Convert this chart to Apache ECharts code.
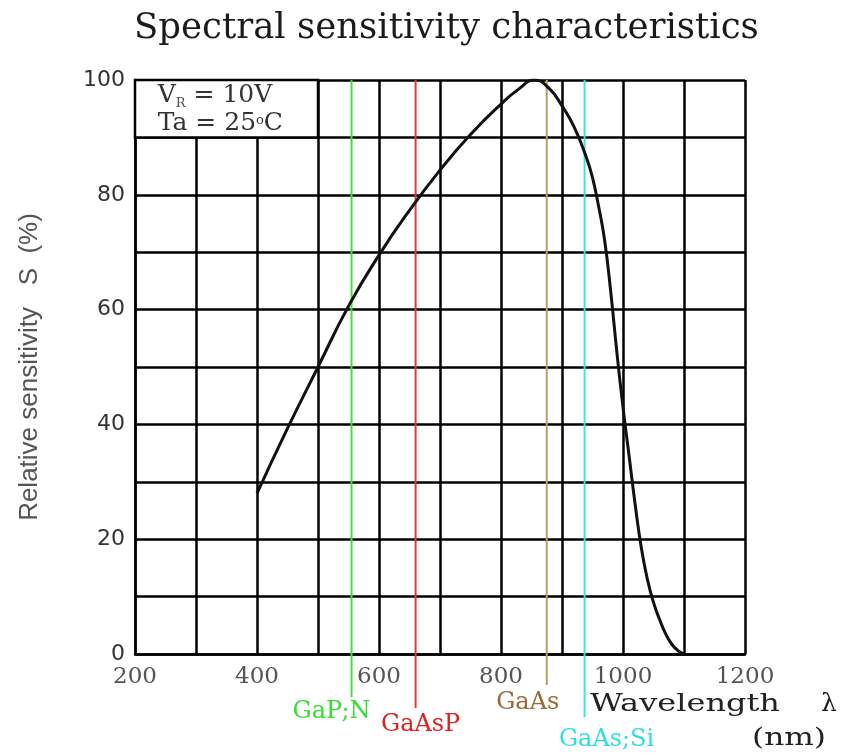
<!DOCTYPE html>
<html>
<head>
<meta charset="utf-8">
<script src="https://cdn.jsdelivr.net/npm/echarts@6/dist/echarts.min.js"></script>
<style>
  html, body { margin: 0; padding: 0; background: #fff; }
  #chart { width: 847px; height: 756px; }
</style>
</head>
<body>
<div id="chart"></div>
<script>
// curve
var wavelength = [400, 450, 500, 550, 600, 650, 700, 750, 800, 830, 855, 880, 900, 920, 940, 950, 960, 970, 980, 990, 1000, 1010, 1020, 1030, 1040, 1050, 1060, 1070, 1080, 1090, 1100];
var sensitivity = [28, 39.3, 50, 60.6, 69.5, 77.3, 84.3, 90.5, 95.8, 98.5, 100, 98.4, 95.5, 91.8, 86.5, 83, 78, 72, 63, 52.5, 43, 34.5, 26, 18.5, 13, 9, 6, 3.5, 1.7, 0.6, 0];

// emitter peak wavelengths
var emitters = ['GaP;N', 'GaAsP', 'GaAs', 'GaAs;Si'];
var emitterNm = [555, 660, 875, 937];

// tick labels
var xLabels = [200, 400, 600, 800, 1000, 1200];
var yLabels = [0, 20, 40, 60, 80, 100];

var emitterStyle = [
  { line: '#44dd44', text: '#33dd33', drop: 43, dx: -20, ty: 58 },
  { line: '#dd3a3a', text: '#dd2222', drop: 54, dx: 5, ty: 71 },
  { line: '#b4a060', text: '#9a6a35', drop: 31, dx: -19, ty: 49 },
  { line: '#38e4e4', text: '#30dede', drop: 63, dx: 22, ty: 86 }
];

var chart = echarts.init(document.getElementById('chart'));

var option = {
  backgroundColor: '#fff',
  animation: false,
  title: {
    text: 'Spectral sensitivity characteristics',
    left: 129,
    top: 6,
    textStyle: { fontFamily: 'DejaVu Serif', fontSize: 35.5, fontWeight: 'normal', color: '#1a1a1a' }
  },
  grid: { left: 135, right: 102, top: 80, bottom: 102 },
  xAxis: {
    type: 'value',
    min: 200, max: 1200, interval: 100,
    axisLine: { lineStyle: { color: '#000', width: 2.5 } },
    axisTick: { show: false },
    splitLine: { lineStyle: { color: '#000', width: 2.5 } },
    axisLabel: {
      margin: 12,
      fontFamily: 'DejaVu Serif', fontSize: 23, color: '#555',
      formatter: function (v) { return xLabels.indexOf(v) >= 0 ? String(v) : ''; }
    }
  },
  yAxis: {
    type: 'value',
    min: 0, max: 100, interval: 10,
    name: 'Relative sensitivity   S  (%)',
    nameLocation: 'middle',
    nameGap: 92,
    nameTextStyle: { fontFamily: 'Liberation Sans', fontSize: 26, color: '#555' },
    axisLine: { lineStyle: { color: '#000', width: 2.5 } },
    axisTick: { show: false },
    splitLine: { lineStyle: { color: '#000', width: 2.5 } },
    axisLabel: {
      margin: 10,
      fontFamily: 'DejaVu Sans', fontSize: 22, color: '#333',
      formatter: function (v) { return yLabels.indexOf(v) >= 0 ? String(v) : ''; }
    }
  },
  graphic: [
    {
      type: 'text', x: 590, y: 692, scaleX: 1.28,
      style: { text: 'Wavelength', fontFamily: 'DejaVu Serif', fontSize: 25, fill: '#222' }
    },
    {
      type: 'text', x: 821, y: 692,
      style: { text: 'λ', fontFamily: 'DejaVu Serif', fontSize: 25, fill: '#222' }
    },
    {
      type: 'text', x: 752, y: 727, scaleX: 1.3,
      style: { text: '(nm)', fontFamily: 'DejaVu Serif', fontSize: 24, fill: '#222' }
    }
  ],
  series: [
    {
      type: 'custom',
      z: 1,
      silent: true,
      data: emitterNm.map(function (nm) { return [nm]; }),
      encode: { x: 0 },
      renderItem: function (params, api) {
        var i = params.dataIndex;
        var st = emitterStyle[i];
        var top = api.coord([api.value(0), 100]);
        var base = api.coord([api.value(0), 0]);
        return {
          type: 'group',
          children: [
            {
              type: 'line',
              shape: { x1: top[0], y1: top[1], x2: top[0], y2: base[1] + st.drop },
              style: { stroke: st.line, lineWidth: 2 }
            },
            {
              type: 'text',
              x: top[0] + st.dx, y: base[1] + st.ty,
              style: {
                text: emitters[i], fill: st.text,
                font: '24px "DejaVu Serif"', align: 'center', verticalAlign: 'middle'
              }
            }
          ]
        };
      }
    },
    {
      type: 'line',
      z: 3,
      data: wavelength.map(function (w, i) { return [w, sensitivity[i]]; }),
      smooth: 0.5,
      showSymbol: false,
      lineStyle: { color: '#111', width: 3 },
      markArea: {
        silent: true,
        itemStyle: { color: '#fff', opacity: 1, borderColor: '#000', borderWidth: 2.5 },
        label: {
          show: true,
          position: [24, 3],
          formatter: '{a|V}{sub|R}{a| = 10V}\n{a|Ta = 25}{sup|o}{a|C}',
          rich: {
            a: { fontFamily: 'DejaVu Serif', fontSize: 25, color: '#333', lineHeight: 28 },
            sub: { fontFamily: 'DejaVu Serif', fontSize: 13, color: '#555', lineHeight: 28, verticalAlign: 'bottom' },
            sup: { fontFamily: 'DejaVu Serif', fontSize: 13, color: '#333', lineHeight: 28, verticalAlign: 'top', padding: [4, 0, 0, 0] }
          }
        },
        data: [[{ coord: [200, 90] }, { coord: [500, 100] }]]
      }
    }
  ]
};

chart.setOption(option);
</script>
</body>
</html>
